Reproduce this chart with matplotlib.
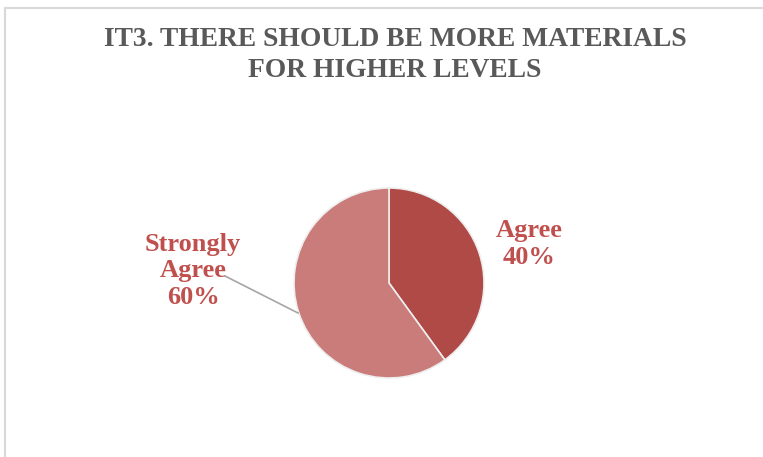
import matplotlib
matplotlib.use("Agg")
import matplotlib.pyplot as plt
from matplotlib.lines import Line2D

categories = ["Agree", "Strongly Agree"]
values = [40, 60]
label_texts = ["Agree\n40%", "Strongly\nAgree\n60%"]
colors = ["#B04A47", "#C97C7A"]
title = "IT3. THERE SHOULD BE MORE MATERIALS\nFOR HIGHER LEVELS"

W, H = 763, 457
fig = plt.figure(figsize=(W / 100, H / 100), dpi=100)
fig.patch.set_facecolor("white")

# frame lines (top and left)
fig.add_artist(Line2D([5 / W, 1], [1 - 8 / H, 1 - 8 / H], color="#D9D9D9", lw=1.5, transform=fig.transFigure))
fig.add_artist(Line2D([5 / W, 5 / W], [0, 1 - 8 / H], color="#D9D9D9", lw=1.5, transform=fig.transFigure))

fig.text(395 / W, 1 - 55 / H, title, ha="center", va="center", fontsize=19.8,
         fontweight="bold", family="Liberation Serif", color="#595959", linespacing=1.32)

cx, cy, r = 389, 283, 95
ax = fig.add_axes([(cx - r) / W, 1 - (cy + r) / H, 2 * r / W, 2 * r / H])
ax.pie(values, colors=colors, startangle=90, counterclock=False,
       wedgeprops=dict(edgecolor="#EEEEEE", linewidth=1.2))
ax.set_aspect("equal")
ax.set_xlim(-1, 1)
ax.set_ylim(-1, 1)
ax.axis("off")

label_pos = [(529, 244), (193, 271)]
for txt, (x, y) in zip(label_texts, label_pos):
    fig.text(x / W, 1 - y / H, txt, ha="center", va="center", fontsize=19,
             fontweight="bold", family="Liberation Serif", color="#C0504D", linespacing=1.2)

# leader line
fig.add_artist(Line2D([225 / W, 298 / W], [1 - 276 / H, 1 - 313 / H], color="#A6A6A6", lw=1.2,
                      transform=fig.transFigure))

fig.savefig("out.png", dpi=100, facecolor="white")
